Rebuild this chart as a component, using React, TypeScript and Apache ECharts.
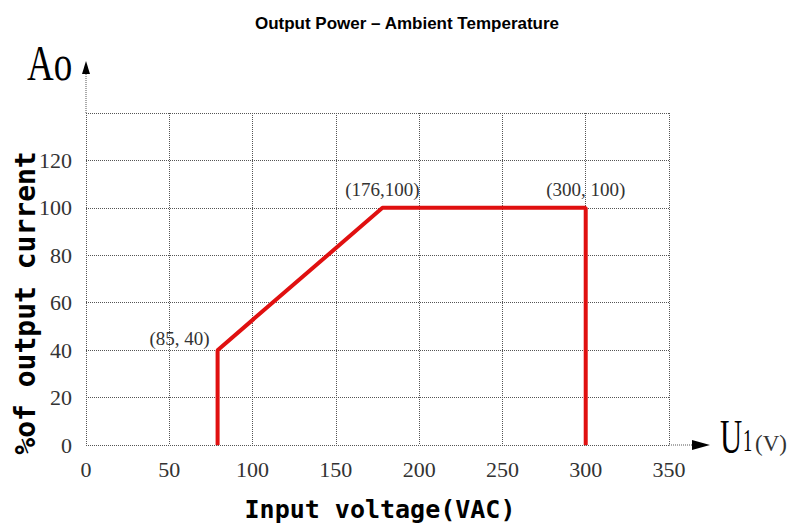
import React, { useEffect, useRef } from "react";
import * as echarts from "echarts";

const xTicks = [0, 50, 100, 150, 200, 250, 300, 350];
const yTicks = [0, 20, 40, 60, 80, 100, 120, 140];
const curveX = [79, 79, 178, 300, 300];
const curveY = [0, 40, 100, 100, 0];
const pointLabels = ["", "(85, 40)", "(176,100)", "(300, 100)", ""];

export default function App() {
  const ref = useRef<HTMLDivElement>(null);
  useEffect(() => {
    const chart = echarts.init(ref.current!, null, { renderer: "svg" });
    const serif = "Liberation Serif, serif";
    const mono = "DejaVu Sans Mono";
    const data = curveX.map((x, i) => {
      const item: any = { value: [x, curveY[i]] };
      if (pointLabels[i]) {
        item.label = {
          show: true,
          formatter: pointLabels[i],
          position: "top",
          distance: 8,
          offset: i === 1 ? [-38, 6] : [0, 0],
        };
      }
      return item;
    });
    chart.setOption({
      animation: false,
      backgroundColor: "#fff",
      title: {
        text: "Output Power – Ambient Temperature",
        left: 402,
        textAlign: "center",
        top: 10,
        textStyle: { fontFamily: "Liberation Sans", fontWeight: "bold", fontSize: 17, color: "#000" },
      },
      grid: { left: 86, right: 124, top: 113, bottom: 82, outerBoundsMode: "none", containLabel: false },
      xAxis: {
        type: "value",
        min: xTicks[0],
        max: xTicks[xTicks.length - 1],
        interval: 50,
        axisLine: { show: false },
        axisTick: { show: false },
        axisLabel: { fontFamily: serif, fontSize: 22, color: "#333", margin: 13 },
        splitLine: { show: true, lineStyle: { type: "dotted", color: "#555", width: 1 } },
        name: "Input voltage(VAC)",
        nameLocation: "middle",
        nameGap: 52,
        nameMoveOverlap: false,
        nameTextStyle: { fontFamily: mono, fontWeight: "bold", fontSize: 25, color: "#000", padding: [0, 0, 0, 5] },
      },
      yAxis: {
        type: "value",
        min: yTicks[0],
        max: yTicks[yTicks.length - 1],
        interval: 20,
        axisLine: { show: false },
        axisTick: { show: false },
        axisLabel: {
          fontFamily: serif,
          fontSize: 22,
          color: "#333",
          margin: 14,
          formatter: (v: number) => (v === 140 ? "" : String(v)),
        },
        splitLine: { show: true, lineStyle: { type: "dotted", color: "#555", width: 1 } },
        name: "%of output current",
        nameLocation: "middle",
        nameGap: 47,
        nameRotate: 90,
        nameMoveOverlap: false,
        nameTextStyle: { fontFamily: mono, fontWeight: "bold", fontSize: 28, color: "#000", padding: [0, 48, 0, 0] },
      },
      series: [
        {
          type: "line",
          data,
          symbol: "circle",
          symbolSize: 1,
          showSymbol: true,
          itemStyle: { color: "#e01010" },
          lineStyle: { color: "#e01010", width: 4 },
          label: { fontFamily: serif, fontSize: 19, color: "#333" },
        },
      ],
      graphic: [
        { type: "line", shape: { x1: 86, y1: 113, x2: 86, y2: 73 }, style: { stroke: "#555", lineWidth: 1, lineDash: [1, 1] } },
        { type: "polygon", shape: { points: [[86, 61], [82, 74], [90, 74]] }, style: { fill: "#000" } },
        { type: "line", shape: { x1: 669, y1: 445, x2: 694, y2: 445 }, style: { stroke: "#555", lineWidth: 1, lineDash: [1, 1] } },
        { type: "polygon", shape: { points: [[692, 440], [710, 445], [692, 450]] }, style: { fill: "#000" } },
        { type: "text", x: 27, y: 64, scaleX: 0.74, style: { text: "Ao", fontFamily: serif, fontSize: 50, fill: "#000", verticalAlign: "middle" } },
        { type: "text", x: 720, y: 437, scaleX: 0.64, style: { text: "U", fontFamily: serif, fontSize: 48, fill: "#000", verticalAlign: "middle" } },
        { type: "text", x: 743, y: 441, scaleX: 0.6, style: { text: "1", fontFamily: serif, fontSize: 31, fill: "#000", verticalAlign: "middle" } },
        { type: "text", x: 755, y: 443, style: { text: "(V)", fontFamily: serif, fontSize: 23, fill: "#333", verticalAlign: "middle" } },
      ],
    });
    return () => chart.dispose();
  }, []);
  return <div ref={ref} style={{ width: 793, height: 527, position: "absolute", left: 0, top: 0 }} />;
}
